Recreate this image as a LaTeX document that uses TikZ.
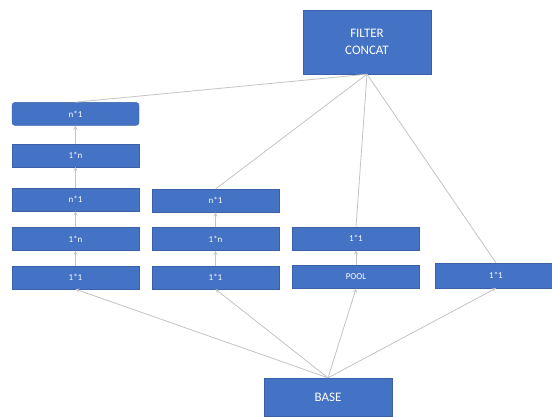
\documentclass[tikz,border=0pt]{standalone}
\usepackage{fontspec}
\setmainfont{Carlito}
\usepackage{tikz}
\usetikzlibrary{arrows,positioning}
\definecolor{boxblue}{HTML}{4472C4}
\definecolor{lineg}{HTML}{C4C4C4}

\begin{document}
\begin{tikzpicture}[x=1pt, y=-1pt,
    block/.style={rectangle, draw=boxblue!85!black, fill=boxblue, text=white, minimum width=127pt, minimum height=23pt, inner sep=0pt, font=\fontsize{9}{10}\selectfont},
    big/.style={block, align=center, font=\fontsize{13}{17}\selectfont},
    link/.style={draw=lineg, line width=0.8pt},
    arrow/.style={->, >=stealth, draw=lineg, line width=0.8pt}]

    \useasboundingbox[fill=white] (0,0) rectangle (552,416);

    \node[big, minimum width=128pt, minimum height=64pt] (concat) at (367,42) {FILTER\\CONCAT};
    \node[big, minimum width=128pt, minimum height=38pt] (base) at (328,397) {BASE};

    \node[block] (a1) at (75.5,277.5) {1*1};
    \node[block, above=15pt of a1] (a2) {1*n};
    \node[block, above=16pt of a2] (a3) {n*1};
    \node[block, above=21pt of a3] (a4) {1*n};
    \node[block, rounded corners=3pt, above=18pt of a4] (a5) {n*1};

    \node[block] (b1) at (215.5,277.5) {1*1};
    \node[block, above=15pt of b1] (b2) {1*n};
    \node[block, above=15pt of b2] (b3) {n*1};

    \node[block] (c1) at (356,277) {POOL};
    \node[block, above=15pt of c1] (c2) {1*1};

    \node[block, minimum width=122pt, minimum height=25pt] (d1) at (496,275.5) {1*1};

    \draw[arrow] (a1) -- (a2);
    \draw[arrow] (a2) -- (a3);
    \draw[arrow] (a3) -- (a4);
    \draw[arrow] (a4) -- (a5);
    \draw[arrow] (b1) -- (b2);
    \draw[arrow] (b2) -- (b3);
    \draw[arrow] (c1) -- (c2);

    \draw[arrow] (base.north) -- (a1.south);
    \draw[arrow] (base.north) -- (b1.south);
    \draw[arrow] (base.north) -- (c1.south);
    \draw[arrow] (base.north) -- (d1.south);

    \draw[link] (a5.north) -- (concat.south);
    \draw[link] (b3.north) -- (concat.south);
    \draw[link] (c2.north) -- (concat.south);
    \draw[link] (d1.north) -- (concat.south);
\end{tikzpicture}
\end{document}
